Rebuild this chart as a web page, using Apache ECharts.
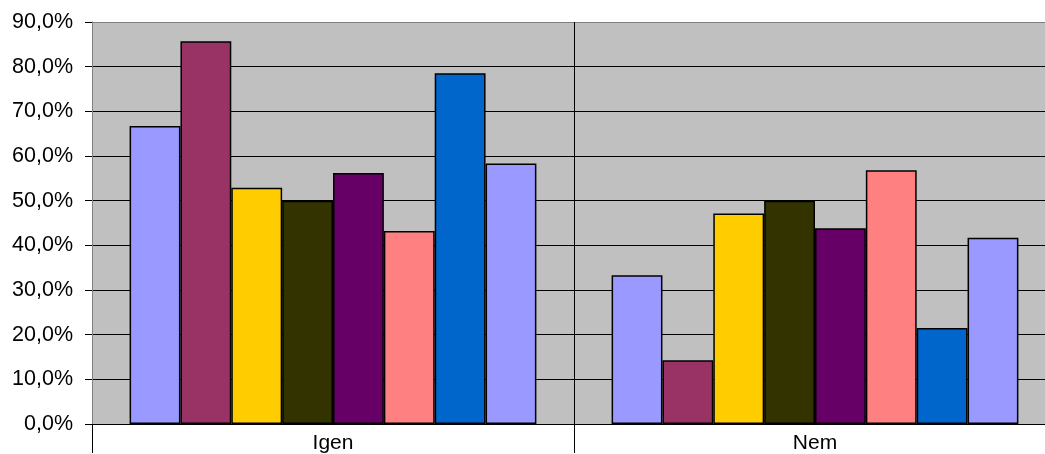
<!DOCTYPE html>
<html>
<head>
<meta charset="utf-8">
<script src="https://cdn.jsdelivr.net/npm/echarts@6/dist/echarts.min.js"></script>
<style>html,body{margin:0;padding:0;background:#fff;overflow:hidden;}#c{width:1056px;height:454px;}</style>
</head>
<body>
<div id="c"></div>
<script>
const categories = ['Igen', 'Nem'];
const seriesNames = ['1', '2', '3', '4', '5', '6', '7', '8'];
const igenValues = [66.7, 85.7, 52.9, 50.0, 56.2, 43.2, 78.5, 58.3];
const nemValues = [33.3, 14.3, 47.1, 50.0, 43.8, 56.8, 21.5, 41.7];
const colors = ['#9999FF', '#993366', '#FFCC00', '#333300', '#660066', '#FF8080', '#0066CC', '#9999FF'];
const yTicks = [0, 10, 20, 30, 40, 50, 60, 70, 80, 90];

const chart = echarts.init(document.getElementById('c'), null, {renderer: 'canvas'});
const font = 'Liberation Sans, Arial, sans-serif';
chart.setOption({
  animation: false,
  grid: {left: 92, right: 0, top: 22, bottom: 29, show: true, backgroundColor: '#C0C0C0', borderWidth: 0},
  xAxis: {
    type: 'category',
    data: categories,
    axisLine: {lineStyle: {color: '#000', width: 1}},
    axisTick: {show: true, length: 29, lineStyle: {color: '#000'}},
    axisLabel: {fontFamily: font, fontSize: 21, color: '#000', margin: 9},
    splitLine: {show: true, lineStyle: {color: '#000', width: 1}}
  },
  yAxis: {
    type: 'value',
    min: yTicks[0],
    max: yTicks[yTicks.length - 1],
    interval: 10,
    axisLine: {show: true, lineStyle: {color: '#808080', width: 1}},
    axisTick: {show: true, length: 7, lineStyle: {color: '#000'}},
    axisLabel: {fontFamily: font, fontSize: 21.5, color: '#000', margin: 19,
      formatter: v => v.toFixed(1).replace('.', ',') + '%'},
    splitLine: {show: true, lineStyle: {color: ['#000','#000','#000','#000','#000','#000','#000','#000','#000','#808080'], width: 1}}
  },
  series: seriesNames.map((n, i) => ({
    name: n,
    type: 'bar',
    data: [igenValues[i], nemValues[i]],
    barGap: '0%',
    barCategoryGap: '15.6%',
    itemStyle: {color: colors[i], borderColor: '#000', borderWidth: 1.5}
  }))
});
</script>
</body>
</html>
